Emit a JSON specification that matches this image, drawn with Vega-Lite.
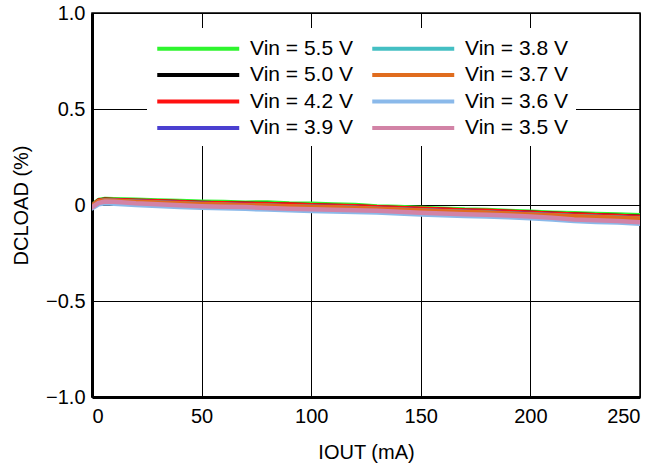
{
  "$schema": "https://vega.github.io/schema/vega-lite/v6.json",
  "width": 548,
  "height": 384,
  "autosize": {"type": "none"},
  "padding": {"left": 92, "top": 13, "right": 17, "bottom": 72},
  "background": "white",
  "config": {
    "font": "Liberation Sans",
    "view": {"stroke": "black", "strokeWidth": 1.5},
    "axis": {
      "labelFont": "Liberation Sans",
      "labelFontSize": 20,
      "labelColor": "black",
      "titleFont": "Liberation Sans",
      "titleFontSize": 20,
      "titleFontWeight": "normal",
      "titleColor": "black",
      "gridColor": "black",
      "gridOpacity": 1,
      "gridWidth": 1,
      "ticks": false,
      "domainColor": "black",
      "domainWidth": 3
    },
    "legend": {
      "labelFont": "Liberation Sans",
      "labelFontSize": 21,
      "labelColor": "black"
    }
  },
  "data": {
    "values": [
      {"s": "Vin = 5.5 V", "x": 0, "y": 0.0}, {"s": "Vin = 5.5 V", "x": 3, "y": 0.026}, {"s": "Vin = 5.5 V", "x": 6, "y": 0.031}, {"s": "Vin = 5.5 V", "x": 10, "y": 0.03},
      {"s": "Vin = 5.5 V", "x": 20, "y": 0.027}, {"s": "Vin = 5.5 V", "x": 30, "y": 0.024}, {"s": "Vin = 5.5 V", "x": 40, "y": 0.021}, {"s": "Vin = 5.5 V", "x": 50, "y": 0.017},
      {"s": "Vin = 5.5 V", "x": 60, "y": 0.015}, {"s": "Vin = 5.5 V", "x": 70, "y": 0.012}, {"s": "Vin = 5.5 V", "x": 80, "y": 0.013}, {"s": "Vin = 5.5 V", "x": 90, "y": 0.008},
      {"s": "Vin = 5.5 V", "x": 100, "y": 0.006}, {"s": "Vin = 5.5 V", "x": 110, "y": 0.002}, {"s": "Vin = 5.5 V", "x": 120, "y": 0.0}, {"s": "Vin = 5.5 V", "x": 130, "y": -0.008},
      {"s": "Vin = 5.5 V", "x": 140, "y": -0.011}, {"s": "Vin = 5.5 V", "x": 150, "y": -0.016}, {"s": "Vin = 5.5 V", "x": 160, "y": -0.019}, {"s": "Vin = 5.5 V", "x": 170, "y": -0.024},
      {"s": "Vin = 5.5 V", "x": 180, "y": -0.026}, {"s": "Vin = 5.5 V", "x": 190, "y": -0.031}, {"s": "Vin = 5.5 V", "x": 200, "y": -0.035}, {"s": "Vin = 5.5 V", "x": 210, "y": -0.04},
      {"s": "Vin = 5.5 V", "x": 220, "y": -0.043}, {"s": "Vin = 5.5 V", "x": 230, "y": -0.047}, {"s": "Vin = 5.5 V", "x": 240, "y": -0.049}, {"s": "Vin = 5.5 V", "x": 250, "y": -0.053},

      {"s": "Vin = 5.0 V", "x": 0, "y": -0.004}, {"s": "Vin = 5.0 V", "x": 3, "y": 0.022}, {"s": "Vin = 5.0 V", "x": 6, "y": 0.027}, {"s": "Vin = 5.0 V", "x": 10, "y": 0.025},
      {"s": "Vin = 5.0 V", "x": 20, "y": 0.021}, {"s": "Vin = 5.0 V", "x": 30, "y": 0.018}, {"s": "Vin = 5.0 V", "x": 40, "y": 0.014}, {"s": "Vin = 5.0 V", "x": 50, "y": 0.011},
      {"s": "Vin = 5.0 V", "x": 60, "y": 0.008}, {"s": "Vin = 5.0 V", "x": 70, "y": 0.006}, {"s": "Vin = 5.0 V", "x": 80, "y": 0.005}, {"s": "Vin = 5.0 V", "x": 90, "y": 0.001},
      {"s": "Vin = 5.0 V", "x": 100, "y": -0.001}, {"s": "Vin = 5.0 V", "x": 110, "y": -0.005}, {"s": "Vin = 5.0 V", "x": 120, "y": -0.008}, {"s": "Vin = 5.0 V", "x": 130, "y": -0.013},
      {"s": "Vin = 5.0 V", "x": 140, "y": -0.017}, {"s": "Vin = 5.0 V", "x": 150, "y": -0.022}, {"s": "Vin = 5.0 V", "x": 160, "y": -0.025}, {"s": "Vin = 5.0 V", "x": 170, "y": -0.03},
      {"s": "Vin = 5.0 V", "x": 180, "y": -0.033}, {"s": "Vin = 5.0 V", "x": 190, "y": -0.037}, {"s": "Vin = 5.0 V", "x": 200, "y": -0.041}, {"s": "Vin = 5.0 V", "x": 210, "y": -0.046},
      {"s": "Vin = 5.0 V", "x": 220, "y": -0.05}, {"s": "Vin = 5.0 V", "x": 230, "y": -0.054}, {"s": "Vin = 5.0 V", "x": 240, "y": -0.057}, {"s": "Vin = 5.0 V", "x": 250, "y": -0.061},

      {"s": "Vin = 4.2 V", "x": 0, "y": -0.003}, {"s": "Vin = 4.2 V", "x": 3, "y": 0.023}, {"s": "Vin = 4.2 V", "x": 6, "y": 0.027}, {"s": "Vin = 4.2 V", "x": 10, "y": 0.026},
      {"s": "Vin = 4.2 V", "x": 20, "y": 0.022}, {"s": "Vin = 4.2 V", "x": 30, "y": 0.019}, {"s": "Vin = 4.2 V", "x": 40, "y": 0.015}, {"s": "Vin = 4.2 V", "x": 50, "y": 0.011},
      {"s": "Vin = 4.2 V", "x": 60, "y": 0.009}, {"s": "Vin = 4.2 V", "x": 70, "y": 0.006}, {"s": "Vin = 4.2 V", "x": 80, "y": 0.004}, {"s": "Vin = 4.2 V", "x": 90, "y": 0.002},
      {"s": "Vin = 4.2 V", "x": 100, "y": -0.001}, {"s": "Vin = 4.2 V", "x": 110, "y": -0.004}, {"s": "Vin = 4.2 V", "x": 120, "y": -0.007}, {"s": "Vin = 4.2 V", "x": 130, "y": -0.012},
      {"s": "Vin = 4.2 V", "x": 140, "y": -0.016}, {"s": "Vin = 4.2 V", "x": 150, "y": -0.02}, {"s": "Vin = 4.2 V", "x": 160, "y": -0.024}, {"s": "Vin = 4.2 V", "x": 170, "y": -0.028},
      {"s": "Vin = 4.2 V", "x": 180, "y": -0.03}, {"s": "Vin = 4.2 V", "x": 190, "y": -0.035}, {"s": "Vin = 4.2 V", "x": 200, "y": -0.04}, {"s": "Vin = 4.2 V", "x": 210, "y": -0.045},
      {"s": "Vin = 4.2 V", "x": 220, "y": -0.049}, {"s": "Vin = 4.2 V", "x": 230, "y": -0.054}, {"s": "Vin = 4.2 V", "x": 240, "y": -0.057}, {"s": "Vin = 4.2 V", "x": 250, "y": -0.062},

      {"s": "Vin = 3.9 V", "x": 0, "y": -0.006}, {"s": "Vin = 3.9 V", "x": 3, "y": 0.019}, {"s": "Vin = 3.9 V", "x": 6, "y": 0.024}, {"s": "Vin = 3.9 V", "x": 10, "y": 0.022},
      {"s": "Vin = 3.9 V", "x": 20, "y": 0.018}, {"s": "Vin = 3.9 V", "x": 30, "y": 0.014}, {"s": "Vin = 3.9 V", "x": 40, "y": 0.01}, {"s": "Vin = 3.9 V", "x": 50, "y": 0.006},
      {"s": "Vin = 3.9 V", "x": 60, "y": 0.003}, {"s": "Vin = 3.9 V", "x": 70, "y": 0.0}, {"s": "Vin = 3.9 V", "x": 80, "y": -0.002}, {"s": "Vin = 3.9 V", "x": 90, "y": -0.006},
      {"s": "Vin = 3.9 V", "x": 100, "y": -0.008}, {"s": "Vin = 3.9 V", "x": 110, "y": -0.011}, {"s": "Vin = 3.9 V", "x": 120, "y": -0.014}, {"s": "Vin = 3.9 V", "x": 130, "y": -0.019},
      {"s": "Vin = 3.9 V", "x": 140, "y": -0.022}, {"s": "Vin = 3.9 V", "x": 150, "y": -0.027}, {"s": "Vin = 3.9 V", "x": 160, "y": -0.031}, {"s": "Vin = 3.9 V", "x": 170, "y": -0.035},
      {"s": "Vin = 3.9 V", "x": 180, "y": -0.038}, {"s": "Vin = 3.9 V", "x": 190, "y": -0.043}, {"s": "Vin = 3.9 V", "x": 200, "y": -0.047}, {"s": "Vin = 3.9 V", "x": 210, "y": -0.052},
      {"s": "Vin = 3.9 V", "x": 220, "y": -0.057}, {"s": "Vin = 3.9 V", "x": 230, "y": -0.061}, {"s": "Vin = 3.9 V", "x": 240, "y": -0.065}, {"s": "Vin = 3.9 V", "x": 250, "y": -0.069},

      {"s": "Vin = 3.8 V", "x": 0, "y": -0.007}, {"s": "Vin = 3.8 V", "x": 3, "y": 0.018}, {"s": "Vin = 3.8 V", "x": 6, "y": 0.023}, {"s": "Vin = 3.8 V", "x": 10, "y": 0.021},
      {"s": "Vin = 3.8 V", "x": 20, "y": 0.016}, {"s": "Vin = 3.8 V", "x": 30, "y": 0.012}, {"s": "Vin = 3.8 V", "x": 40, "y": 0.008}, {"s": "Vin = 3.8 V", "x": 50, "y": 0.004},
      {"s": "Vin = 3.8 V", "x": 60, "y": 0.001}, {"s": "Vin = 3.8 V", "x": 70, "y": -0.002}, {"s": "Vin = 3.8 V", "x": 80, "y": -0.004}, {"s": "Vin = 3.8 V", "x": 90, "y": -0.008},
      {"s": "Vin = 3.8 V", "x": 100, "y": -0.01}, {"s": "Vin = 3.8 V", "x": 110, "y": -0.013}, {"s": "Vin = 3.8 V", "x": 120, "y": -0.016}, {"s": "Vin = 3.8 V", "x": 130, "y": -0.021},
      {"s": "Vin = 3.8 V", "x": 140, "y": -0.025}, {"s": "Vin = 3.8 V", "x": 150, "y": -0.029}, {"s": "Vin = 3.8 V", "x": 160, "y": -0.033}, {"s": "Vin = 3.8 V", "x": 170, "y": -0.037},
      {"s": "Vin = 3.8 V", "x": 180, "y": -0.04}, {"s": "Vin = 3.8 V", "x": 190, "y": -0.045}, {"s": "Vin = 3.8 V", "x": 200, "y": -0.049}, {"s": "Vin = 3.8 V", "x": 210, "y": -0.054},
      {"s": "Vin = 3.8 V", "x": 220, "y": -0.059}, {"s": "Vin = 3.8 V", "x": 230, "y": -0.063}, {"s": "Vin = 3.8 V", "x": 240, "y": -0.067}, {"s": "Vin = 3.8 V", "x": 250, "y": -0.071},

      {"s": "Vin = 3.7 V", "x": 0, "y": -0.006}, {"s": "Vin = 3.7 V", "x": 3, "y": 0.02}, {"s": "Vin = 3.7 V", "x": 6, "y": 0.024}, {"s": "Vin = 3.7 V", "x": 10, "y": 0.022},
      {"s": "Vin = 3.7 V", "x": 20, "y": 0.017}, {"s": "Vin = 3.7 V", "x": 30, "y": 0.013}, {"s": "Vin = 3.7 V", "x": 40, "y": 0.009}, {"s": "Vin = 3.7 V", "x": 50, "y": 0.005},
      {"s": "Vin = 3.7 V", "x": 60, "y": 0.002}, {"s": "Vin = 3.7 V", "x": 70, "y": -0.001}, {"s": "Vin = 3.7 V", "x": 80, "y": -0.003}, {"s": "Vin = 3.7 V", "x": 90, "y": -0.007},
      {"s": "Vin = 3.7 V", "x": 100, "y": -0.009}, {"s": "Vin = 3.7 V", "x": 110, "y": -0.012}, {"s": "Vin = 3.7 V", "x": 120, "y": -0.015}, {"s": "Vin = 3.7 V", "x": 130, "y": -0.02},
      {"s": "Vin = 3.7 V", "x": 140, "y": -0.024}, {"s": "Vin = 3.7 V", "x": 150, "y": -0.028}, {"s": "Vin = 3.7 V", "x": 160, "y": -0.032}, {"s": "Vin = 3.7 V", "x": 170, "y": -0.036},
      {"s": "Vin = 3.7 V", "x": 180, "y": -0.039}, {"s": "Vin = 3.7 V", "x": 190, "y": -0.044}, {"s": "Vin = 3.7 V", "x": 200, "y": -0.049}, {"s": "Vin = 3.7 V", "x": 210, "y": -0.053},
      {"s": "Vin = 3.7 V", "x": 220, "y": -0.058}, {"s": "Vin = 3.7 V", "x": 230, "y": -0.062}, {"s": "Vin = 3.7 V", "x": 240, "y": -0.066}, {"s": "Vin = 3.7 V", "x": 250, "y": -0.07},

      {"s": "Vin = 3.6 V", "x": 0, "y": -0.018}, {"s": "Vin = 3.6 V", "x": 3, "y": 0.004}, {"s": "Vin = 3.6 V", "x": 6, "y": 0.009}, {"s": "Vin = 3.6 V", "x": 10, "y": 0.007},
      {"s": "Vin = 3.6 V", "x": 20, "y": 0.0}, {"s": "Vin = 3.6 V", "x": 30, "y": -0.005}, {"s": "Vin = 3.6 V", "x": 40, "y": -0.01}, {"s": "Vin = 3.6 V", "x": 50, "y": -0.014},
      {"s": "Vin = 3.6 V", "x": 60, "y": -0.017}, {"s": "Vin = 3.6 V", "x": 70, "y": -0.02}, {"s": "Vin = 3.6 V", "x": 80, "y": -0.024}, {"s": "Vin = 3.6 V", "x": 90, "y": -0.028},
      {"s": "Vin = 3.6 V", "x": 100, "y": -0.031}, {"s": "Vin = 3.6 V", "x": 110, "y": -0.034}, {"s": "Vin = 3.6 V", "x": 120, "y": -0.036}, {"s": "Vin = 3.6 V", "x": 130, "y": -0.039},
      {"s": "Vin = 3.6 V", "x": 140, "y": -0.044}, {"s": "Vin = 3.6 V", "x": 150, "y": -0.049}, {"s": "Vin = 3.6 V", "x": 160, "y": -0.053}, {"s": "Vin = 3.6 V", "x": 170, "y": -0.057},
      {"s": "Vin = 3.6 V", "x": 180, "y": -0.06}, {"s": "Vin = 3.6 V", "x": 190, "y": -0.064}, {"s": "Vin = 3.6 V", "x": 200, "y": -0.069}, {"s": "Vin = 3.6 V", "x": 210, "y": -0.075},
      {"s": "Vin = 3.6 V", "x": 220, "y": -0.083}, {"s": "Vin = 3.6 V", "x": 230, "y": -0.088}, {"s": "Vin = 3.6 V", "x": 240, "y": -0.091}, {"s": "Vin = 3.6 V", "x": 250, "y": -0.098},

      {"s": "Vin = 3.5 V", "x": 0, "y": -0.012}, {"s": "Vin = 3.5 V", "x": 3, "y": 0.011}, {"s": "Vin = 3.5 V", "x": 6, "y": 0.018}, {"s": "Vin = 3.5 V", "x": 10, "y": 0.017},
      {"s": "Vin = 3.5 V", "x": 20, "y": 0.009}, {"s": "Vin = 3.5 V", "x": 30, "y": 0.004}, {"s": "Vin = 3.5 V", "x": 40, "y": -0.001}, {"s": "Vin = 3.5 V", "x": 50, "y": -0.006},
      {"s": "Vin = 3.5 V", "x": 60, "y": -0.009}, {"s": "Vin = 3.5 V", "x": 70, "y": -0.011}, {"s": "Vin = 3.5 V", "x": 80, "y": -0.016}, {"s": "Vin = 3.5 V", "x": 90, "y": -0.02},
      {"s": "Vin = 3.5 V", "x": 100, "y": -0.022}, {"s": "Vin = 3.5 V", "x": 110, "y": -0.025}, {"s": "Vin = 3.5 V", "x": 120, "y": -0.027}, {"s": "Vin = 3.5 V", "x": 130, "y": -0.03},
      {"s": "Vin = 3.5 V", "x": 140, "y": -0.035}, {"s": "Vin = 3.5 V", "x": 150, "y": -0.04}, {"s": "Vin = 3.5 V", "x": 160, "y": -0.044}, {"s": "Vin = 3.5 V", "x": 170, "y": -0.048},
      {"s": "Vin = 3.5 V", "x": 180, "y": -0.051}, {"s": "Vin = 3.5 V", "x": 190, "y": -0.055}, {"s": "Vin = 3.5 V", "x": 200, "y": -0.06}, {"s": "Vin = 3.5 V", "x": 210, "y": -0.066},
      {"s": "Vin = 3.5 V", "x": 220, "y": -0.075}, {"s": "Vin = 3.5 V", "x": 230, "y": -0.08}, {"s": "Vin = 3.5 V", "x": 240, "y": -0.083}, {"s": "Vin = 3.5 V", "x": 250, "y": -0.09}
    ]
  },
  "mark": {"type": "line", "strokeWidth": 4.5, "strokeCap": "round", "strokeJoin": "round", "clip": true},
  "encoding": {
    "x": {
      "field": "x", "type": "quantitative",
      "scale": {"domain": [0, 250], "nice": false},
      "axis": {"title": "IOUT (mA)", "values": [0, 50, 100, 150, 200, 250], "labelFlush": true, "labelPadding": 9, "titlePadding": 16, "grid": true}
    },
    "y": {
      "field": "y", "type": "quantitative",
      "scale": {"domain": [-1, 1], "nice": false},
      "axis": {"title": "DCLOAD (%)", "values": [-1, -0.5, 0, 0.5, 1], "labelExpr": "datum.value == 0 ? '0' : format(datum.value, '.1f')", "labelPadding": 7, "titlePadding": 14, "grid": true}
    },
    "color": {
      "field": "s", "type": "nominal",
      "scale": {
        "domain": ["Vin = 5.5 V", "Vin = 3.8 V", "Vin = 5.0 V", "Vin = 3.7 V", "Vin = 4.2 V", "Vin = 3.6 V", "Vin = 3.9 V", "Vin = 3.5 V"],
        "range": ["#2ef52e", "#44bfc3", "#000000", "#e06c1e", "#ff1010", "#8ab9ea", "#4a3fd0", "#d283a6"]
      },
      "legend": {
        "title": null,
        "orient": "none",
        "legendX": 55,
        "legendY": 15,
        "direction": "horizontal",
        "columns": 2,
        "fillColor": "white",
        "padding": 8,
        "symbolType": "M-1,0H7",
        "symbolSize": 420,
        "symbolStrokeWidth": 4,
        "symbolOpacity": 1,
        "labelOffset": 70,
        "columnPadding": 11,
        "rowPadding": 3.5
      }
    }
  }
}
